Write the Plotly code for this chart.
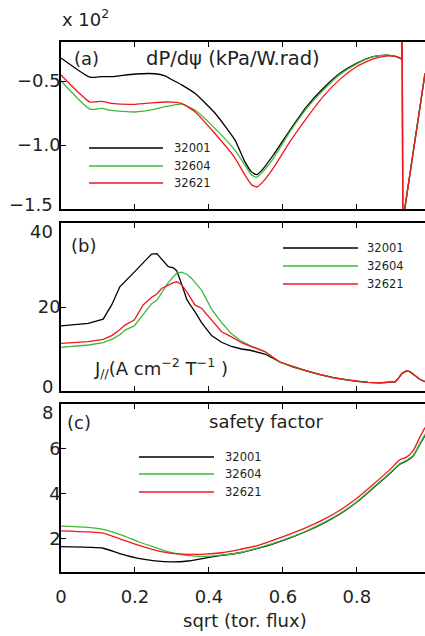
import plotly.graph_objects as go

# ---------------- data ----------------
shots = ["32001", "32604", "32621"]
colors = ["#000000", "#3db83a", "#f2171f"]

# panel (a): dP/dpsi (x 10^2 kPa/W.rad)
x_a = [0, 0.078, 0.11, 0.137, 0.2, 0.254, 0.281, 0.30, 0.326, 0.362,
       0.416, 0.47, 0.497, 0.515, 0.529, 0.545, 0.574, 0.619, 0.664, 0.709,
       0.754, 0.799, 0.844, 0.880, 0.907, 0.921, 0.9222, 0.924, 0.984]
dpdpsi_32001 = [-0.32, -0.47, -0.465, -0.466, -0.445, -0.443, -0.46, -0.49, -0.53, -0.596,
                -0.75, -0.96, -1.13, -1.21, -1.232, -1.19, -1.078, -0.883, -0.70, -0.557,
                -0.44, -0.362, -0.31, -0.297, -0.31, -0.328, 0.0, -1.6, -0.44]
dpdpsi_32604 = [-0.50, -0.72, -0.714, -0.73, -0.742, -0.72, -0.70, -0.69, -0.68, -0.727,
                -0.87, -1.04, -1.156, -1.235, -1.252, -1.21, -1.104, -0.896, -0.714, -0.57,
                -0.448, -0.367, -0.31, -0.297, -0.31, -0.328, 0.0, -1.6, -0.44]
dpdpsi_32621 = [-0.453, -0.664, -0.659, -0.675, -0.682, -0.668, -0.664, -0.665, -0.675, -0.74,
                -0.91, -1.10, -1.234, -1.31, -1.328, -1.29, -1.18, -0.974, -0.79, -0.62,
                -0.487, -0.388, -0.326, -0.305, -0.31, -0.33, 0.0, -1.6, -0.44]
a_smooth_end = 25  # index of last smooth point before the edge spike

# panel (b): J// (A cm^-2 T^-1)
x_b = [0, 0.074, 0.114, 0.137, 0.159, 0.173, 0.198, 0.222, 0.245, 0.259,
       0.272, 0.29, 0.304, 0.313, 0.326, 0.34, 0.353, 0.362, 0.38, 0.407,
       0.434, 0.461, 0.488, 0.511, 0.551, 0.592, 0.628, 0.664, 0.70, 0.736,
       0.77, 0.799, 0.83, 0.862, 0.903, 0.912, 0.922, 0.934, 0.943, 0.952,
       0.97, 0.984]
jpar_32001 = [15.5, 16.1, 17.1, 20.5, 24.8, 26.0, 28.3, 30.5, 32.6, 32.7,
              31.4, 29.6, 29.3, 28.6, 25.5, 21.8, 20.0, 18.9, 16.3, 13.2,
              11.6, 10.6, 10.0, 9.7, 8.8, 6.9, 5.7, 4.8, 3.9, 3.2,
              2.7, 2.3, 2.05, 1.95, 2.2, 3.0, 4.2, 4.8, 4.6, 4.0,
              2.8, 2.2]
jpar_32604 = [10.4, 10.95, 11.5, 12.3, 13.4, 14.5, 15.5, 18.3, 20.8, 21.6,
              23.3, 25.8, 27.2, 28.0, 28.3, 27.8, 26.8, 25.8, 24.0, 19.5,
              16.3, 13.6, 11.8, 10.8, 9.4, 6.8, 5.7, 4.75, 3.9, 3.15,
              2.65, 2.3, 2.05, 1.95, 2.2, 3.0, 4.2, 4.8, 4.6, 4.0,
              2.8, 2.2]
jpar_32621 = [11.35, 11.75, 12.3, 13.2, 14.6, 15.7, 16.9, 20.5, 22.3, 23.1,
              24.4, 25.3, 25.8, 26.0, 25.3, 23.6, 21.8, 20.5, 19.7, 16.9,
              14.1, 12.9, 11.5, 10.7, 9.4, 6.9, 5.8, 4.8, 3.95, 3.2,
              2.7, 2.3, 2.05, 1.95, 2.2, 3.0, 4.2, 4.8, 4.6, 4.0,
              2.8, 2.2]

# panel (c): safety factor
x_c = [0, 0.074, 0.114, 0.164, 0.209, 0.254, 0.299, 0.344, 0.389, 0.434,
       0.484, 0.529, 0.574, 0.619, 0.664, 0.709, 0.754, 0.799, 0.844, 0.889,
       0.916, 0.934, 0.952, 0.97, 0.984]
q_32001 = [1.63, 1.60, 1.56, 1.30, 1.11, 1.00, 0.95, 0.99, 1.12, 1.24,
           1.36, 1.54, 1.76, 2.02, 2.32, 2.67, 3.09, 3.61, 4.25, 4.90,
           5.31, 5.46, 5.68, 6.20, 6.60]
q_32604 = [2.55, 2.49, 2.40, 2.15, 1.85, 1.60, 1.36, 1.23, 1.20, 1.26,
           1.36, 1.56, 1.78, 2.04, 2.34, 2.69, 3.11, 3.63, 4.27, 4.92,
           5.33, 5.48, 5.70, 6.22, 6.65]
q_32621 = [2.34, 2.29, 2.24, 1.95, 1.70, 1.48, 1.33, 1.29, 1.30, 1.36,
           1.51, 1.67, 1.92, 2.19, 2.49, 2.84, 3.26, 3.78, 4.41, 5.07,
           5.51, 5.63, 5.92, 6.52, 6.95]

x_ticks = [0, 0.2, 0.4, 0.6, 0.8]
x_ticktext = ["0", "0.2", "0.4", "0.6", "0.8"]
ya_ticks = [-1.0, -0.5]
ya_ticktext = ["\u22121.0", "\u22120.5"]
yb_ticks = [20]
yc_ticks = [2, 4, 6]
# edge tick labels (drawn shifted inward like the original): (axis, value, text, anchor)
edge_labels = [("y", -1.5, "\u22121.5", "bottom"),
               ("y2", 40, "40", "top"),
               ("y2", 0, "0", "bottom"),
               ("y3", 8, "8", "top")]

# ---------------- layout helpers ----------------
W, H = 425, 636
L, R, T, B = 61, 0, 42, 64
PH = H - T - B
PW = W - L - R
FONT = "DejaVu Sans"
TXT = "#231f20"


def py(p):
    return (H - B - p) / PH


def px(p):
    return (p - L) / PW


fig = go.Figure()

# panel (a): smooth body + sharp edge spike
for name, col, ys in zip(shots, colors, [dpdpsi_32001, dpdpsi_32604, dpdpsi_32621]):
    k = a_smooth_end
    fig.add_trace(go.Scatter(x=x_a[:k + 1], y=ys[:k + 1], mode="lines", name=name,
                             line=dict(color=col, width=1.3, shape="spline", smoothing=0.5),
                             xaxis="x", yaxis="y", showlegend=False))
    fig.add_trace(go.Scatter(x=x_a[k:], y=ys[k:], mode="lines", name=name,
                             line=dict(color=col, width=1.3),
                             xaxis="x", yaxis="y", showlegend=False))

for name, col, ys in zip(shots, colors, [jpar_32001, jpar_32604, jpar_32621]):
    fig.add_trace(go.Scatter(x=x_b, y=ys, mode="lines", name=name,
                             line=dict(color=col, width=1.3),
                             xaxis="x2", yaxis="y2", showlegend=False))

for name, col, ys in zip(shots, colors, [q_32001, q_32604, q_32621]):
    fig.add_trace(go.Scatter(x=x_c, y=ys, mode="lines", name=name,
                             line=dict(color=col, width=1.3, shape="spline", smoothing=0.8),
                             xaxis="x3", yaxis="y3", showlegend=False))

xcommon = dict(range=[0, 0.984], tickvals=x_ticks, ticktext=x_ticktext,
               ticks="inside", ticklen=5, tickwidth=1.2, tickcolor="black",
               showline=True, linecolor="black", linewidth=1.6, mirror="ticks",
               showgrid=False, zeroline=False,
               tickfont=dict(family=FONT, size=18, color=TXT))
ycommon = dict(ticks="inside", ticklen=5, tickwidth=1.2, tickcolor="black",
               showline=True, linecolor="black", linewidth=1.6, mirror=False,
               showgrid=False, zeroline=False, ticklabelstandoff=-5,
               tickfont=dict(family=FONT, size=18, color=TXT))

fig.update_layout(
    width=W, height=H,
    margin=dict(l=L, r=R, t=T, b=B),
    paper_bgcolor="white", plot_bgcolor="white",
    showlegend=False,
    xaxis=dict(xcommon, anchor="y", domain=[0, 1], showticklabels=False),
    xaxis2=dict(xcommon, anchor="y2", domain=[0, 1], showticklabels=False),
    xaxis3=dict(xcommon, anchor="y3", domain=[0, 1], ticklabelstandoff=7,
                linewidth=2.2),
    yaxis=dict(ycommon, anchor="x", domain=[py(209), py(42)], range=[-1.5, -0.195],
               tickvals=ya_ticks, ticktext=ya_ticktext),
    yaxis2=dict(ycommon, anchor="x2", domain=[py(391), py(223)], range=[0, 40],
                tickvals=yb_ticks),
    yaxis3=dict(ycommon, anchor="x3", domain=[py(572), py(404)], range=[0.5, 8],
                tickvals=yc_ticks),
)

for yax, val, txt, anchor in edge_labels:
    fig.add_annotation(xref="paper", yref=yax, x=0, y=val, text=txt,
                       showarrow=False, xanchor="right", yanchor=anchor,
                       xshift=-6, yshift=(-8 if anchor == "bottom" else 4),
                       font=dict(family=FONT, size=18, color=TXT))

# ---------------- hand-drawn legends ----------------
legend_boxes = [
    (89, 163, 172, [148, 166, 183]),
    (283, 358, 365, [248, 266, 284]),
    (139, 214, 223, [457, 474, 492]),
]
for x0, x1, xt, ys in legend_boxes:
    for name, col, yy in zip(shots, colors, ys):
        fig.add_shape(type="line", xref="paper", yref="paper",
                      x0=px(x0), x1=px(x1), y0=py(yy), y1=py(yy),
                      line=dict(color=col, width=1.3))
        fig.add_annotation(xref="paper", yref="paper", x=px(xt), y=py(yy),
                           text=name, showarrow=False, xanchor="left",
                           yanchor="middle",
                           font=dict(family=FONT, size=11.5, color=TXT))


# ---------------- text annotations ----------------
def note(text, x, y, xanchor="left", size=18):
    fig.add_annotation(xref="paper", yref="paper", x=px(x), y=py(y), text=text,
                       showarrow=False, xanchor=xanchor, yanchor="middle",
                       font=dict(family=FONT, size=size, color=TXT))


note("(a)", 72, 58)
note("dP/d\u03c8 (kPa/W.rad)", 233, 58, "center", size=19.5)
note("(b)", 69, 245)
note("J<sub>//</sub>(A cm<sup>\u22122</sup> T<sup>\u22121</sup> )", 92, 368)
note("(c)", 65, 422)
note("safety factor", 266, 421, "center")
note("x 10<sup>2</sup>", 60, 18)
note("sqrt (tor. flux)", 245, 620, "center")

fig.write_html("out.html")
